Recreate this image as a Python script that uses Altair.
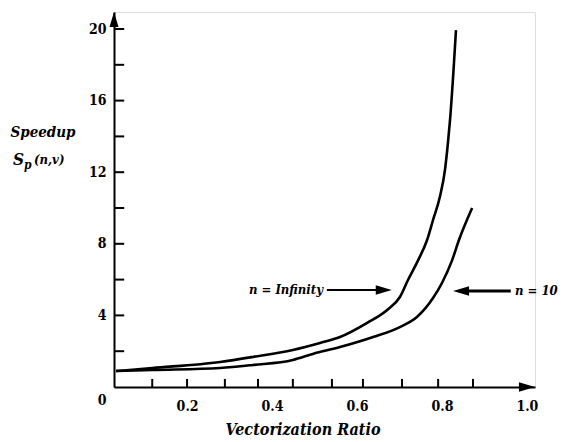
import altair as alt
import pandas as pd

# ---- data ----
v_inf = [0.033, 0.118, 0.278, 0.355, 0.449, 0.513, 0.560, 0.624, 0.671, 0.701,
         0.720, 0.744, 0.765, 0.779, 0.795, 0.807, 0.814, 0.819, 0.833]
s_inf = [0.89, 1.06, 1.40, 1.68, 2.07, 2.46, 2.79, 3.58, 4.30, 5.03,
         5.98, 7.09, 8.21, 9.33, 10.61, 12.12, 13.63, 14.92, 19.94]
v_10 = [0.033, 0.118, 0.278, 0.355, 0.449, 0.496, 0.560, 0.638, 0.701, 0.741,
        0.779, 0.800, 0.824, 0.840, 0.871]
s_10 = [0.89, 0.95, 1.06, 1.23, 1.51, 1.85, 2.23, 2.79, 3.35, 3.91,
        4.97, 5.81, 7.09, 8.21, 10.0]
x_label_values = [0.2, 0.4, 0.6, 0.8, 1.0]
y_label_values = [4, 8, 12, 16, 20]
x_tick_values = [0.118, 0.2, 0.289, 0.367, 0.449, 0.541, 0.614, 0.706, 0.791, 0.873]
y_tick_values = [2, 4, 6, 8, 10, 12, 14, 16, 18, 20]
labels = ["n = Infinity", "n = 10"]
label_v = [0.52, 0.972]
label_s = [5.42, 5.36]

X0, X1 = 0.028, 1.019
Y0, Y1 = 0.0, 20.95

curves = pd.DataFrame({
    "v": v_inf + v_10,
    "s": s_inf + s_10,
    "series": ["inf"] * len(v_inf) + ["10"] * len(v_10),
})

FONT = "DejaVu Serif Condensed, DejaVu Serif"
xs = alt.Scale(domain=[X0, X1], nice=False, zero=False)
ys = alt.Scale(domain=[Y0, Y1], nice=False, zero=False)
xa = alt.Axis(values=x_label_values, format=".1f", title=None, ticks=False, grid=False,
              domainColor="black", domainWidth=2, labelColor="black", labelFont=FONT,
              labelFontSize=14, labelFontWeight="bold", labelPadding=12)
ya = alt.Axis(values=y_label_values, format="d", title=None, ticks=False, grid=False,
              domainColor="black", domainWidth=2, labelColor="black", labelFont=FONT,
              labelFontSize=14, labelFontWeight="bold", labelPadding=8)
X = alt.X("v:Q", scale=xs, axis=xa)
Y = alt.Y("s:Q", scale=ys, axis=ya)

lines = alt.Chart(curves).mark_line(color="black", strokeWidth=2.6, interpolate="monotone").encode(
    x=X, y=Y, detail="series:N")

xt = pd.DataFrame({"v": x_tick_values, "s": [0.0] * len(x_tick_values), "s2": [0.45] * len(x_tick_values)})
xticks = alt.Chart(xt).mark_rule(color="black", strokeWidth=2).encode(x=X, y=Y, y2="s2:Q")
yt = pd.DataFrame({"s": y_tick_values, "v": [X0] * len(y_tick_values), "v2": [X0 + 0.024] * len(y_tick_values)})
yticks = alt.Chart(yt).mark_rule(color="black", strokeWidth=2).encode(x=X, x2="v2:Q", y=Y)

up = "M0,-1L-0.6,1L0.6,1Z"
right = "M1,0L-1,-0.6L-1,0.6Z"
left = "M-1,0L1,-0.6L1,0.6Z"
ya_head = alt.Chart(pd.DataFrame({"v": [X0], "s": [Y1 - 0.42]})).mark_point(
    shape=up, filled=True, size=225, color="black", opacity=1, strokeWidth=0).encode(x=X, y=Y)
xa_head = alt.Chart(pd.DataFrame({"v": [X1 - 0.019], "s": [0.0]})).mark_point(
    shape=right, filled=True, size=256, color="black", opacity=1, strokeWidth=0).encode(x=X, y=Y)

shaft1 = alt.Chart(pd.DataFrame({"v": [0.529], "v2": [0.668], "s": [label_s[0]]})).mark_rule(
    color="black", strokeWidth=2).encode(x=X, x2="v2:Q", y=Y)
shaft2 = alt.Chart(pd.DataFrame({"v": [0.84], "v2": [0.962], "s": [label_s[1]]})).mark_rule(
    color="black", strokeWidth=3).encode(x=X, x2="v2:Q", y=Y)
head1 = alt.Chart(pd.DataFrame({"v": [0.663], "s": [label_s[0]]})).mark_point(
    shape=right, filled=True, size=256, color="black", opacity=1, strokeWidth=0).encode(x=X, y=Y)
head2 = alt.Chart(pd.DataFrame({"v": [0.845], "s": [label_s[1]]})).mark_point(
    shape=left, filled=True, size=256, color="black", opacity=1, strokeWidth=0).encode(x=X, y=Y)

ann = pd.DataFrame({"v": label_v, "s": label_s, "t": labels})
txt1 = alt.Chart(ann.iloc[[0]]).mark_text(align="right", baseline="middle", font=FONT,
    fontSize=13, fontWeight="bold", fontStyle="italic", color="black").encode(x=X, y=Y, text="t:N")
txt2 = alt.Chart(ann.iloc[[1]]).mark_text(align="left", baseline="middle", font=FONT,
    fontSize=13, fontWeight="bold", fontStyle="italic", color="black").encode(x=X, y=Y, text="t:N")

def label(text, x, y, size, align="center", baseline="middle", italic=True):
    return alt.Chart(pd.DataFrame({"t": [text]})).mark_text(
        align=align, baseline=baseline, font=FONT, fontSize=size, fontWeight="bold",
        fontStyle="italic" if italic else "normal", color="black").encode(
        x=alt.value(x), y=alt.value(y), text="t:N")

xtitle = label("Vectorization Ratio", 189, 418, 16)
speedup = label("Speedup", -71, 120, 15)
s_main = label("S", -101, 153, 17, align="left", baseline="alphabetic")
s_sub = label("p", -90, 157, 12, align="left", baseline="alphabetic")
s_args = label("(n,v)", -80, 152, 13, align="left", baseline="alphabetic")
zero = label("0", -12, 389, 14, italic=False)

chart = alt.layer(lines, xticks, yticks, ya_head, xa_head, shaft1, shaft2, head1, head2,
                  txt1, txt2, xtitle, speedup, s_main, s_sub, s_args, zero).properties(
    width=421, height=375,
    autosize=alt.AutoSizeParams(type="none"),
    padding={"left": 106, "top": 4, "right": 26, "bottom": 52},
).configure_view(stroke=None).configure(background="white")

chart.save("out.html", embed_options={"renderer": "svg", "actions": False})
